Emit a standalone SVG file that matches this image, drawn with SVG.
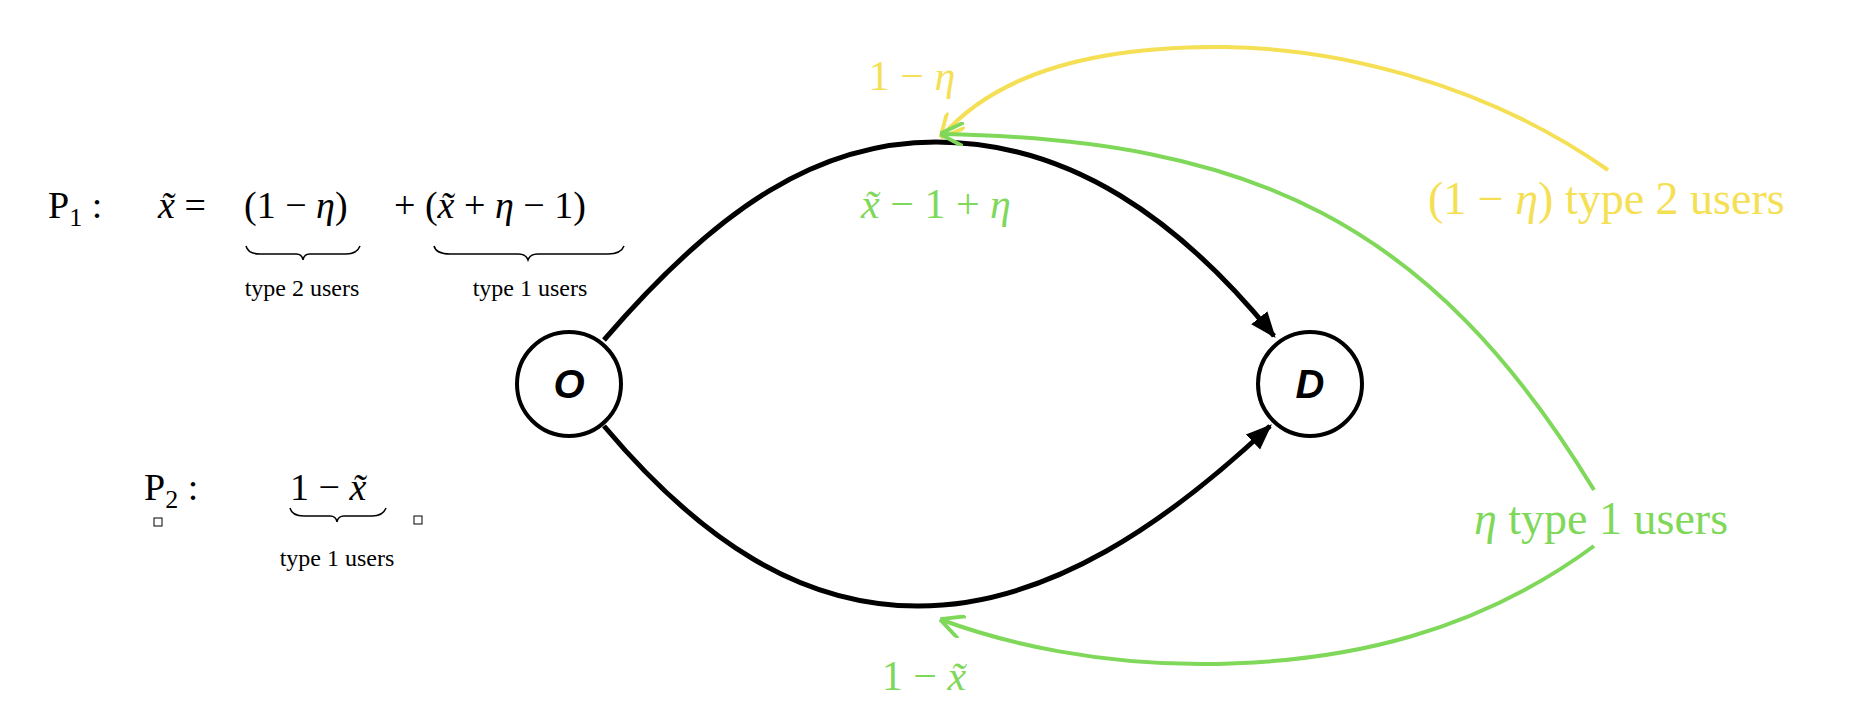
<svg xmlns="http://www.w3.org/2000/svg" width="1872" height="722" viewBox="0 0 1872 722">
<style>
.m{font-family:"Liberation Serif","DejaVu Serif",serif}
.i{font-style:italic}
.y{fill:#f5df55}.g{fill:#7fd85a}
.node{fill:#fff;stroke:#000;stroke-width:4}
.nl{font-family:"Liberation Sans",Arial,sans-serif;font-weight:bold;font-style:italic;font-size:40px}
.br{fill:none;stroke:#000;stroke-width:1.5}
</style>
<defs>
<marker id="ab" markerWidth="10" markerHeight="10" refX="8" refY="5" orient="auto" markerUnits="userSpaceOnUse" viewBox="0 0 10 10"><path d="M0,0 L10,5 L0,10 z" fill="#000" transform="scale(1)"/></marker>
<marker id="ak" viewBox="0 0 10 10" refX="9" refY="5" markerWidth="26" markerHeight="26" orient="auto" markerUnits="userSpaceOnUse"><path d="M0,1 L10,5 L0,9 z" fill="#000"/></marker>
<marker id="ay" viewBox="0 0 10 10" refX="9" refY="5" markerWidth="24" markerHeight="24" orient="auto" markerUnits="userSpaceOnUse"><path d="M0,0 L10,5 L0,10" fill="none" stroke="#f5df55" stroke-width="1.6"/></marker>
<marker id="ag" viewBox="0 0 10 10" refX="9" refY="5" markerWidth="24" markerHeight="24" orient="auto" markerUnits="userSpaceOnUse"><path d="M0,0 L10,5 L0,10" fill="none" stroke="#7fd85a" stroke-width="1.6"/></marker>
</defs>
<g id="connectors" fill="none">
<path d="M604,340 C720,205 820,142 936,142 C1070,142 1180,220 1274,336" stroke="#000" stroke-width="5" marker-end="url(#ak)"/>
<path d="M604,426 C700,540 800,606 918,606 C1050,606 1170,520 1270,426" stroke="#000" stroke-width="5" marker-end="url(#ak)"/>
<path d="M1608,170 C1480,80 1330,48 1224,47 C1100,46 1000,70 942,136" stroke="#f5df55" stroke-width="4" marker-end="url(#ay)"/>
<path d="M1594,490 C1430,220 1250,140 942,134" stroke="#7fd85a" stroke-width="4" marker-end="url(#ag)"/>
<path d="M1594,546 C1480,630 1350,664 1200,664 C1100,664 1010,645 942,620" stroke="#7fd85a" stroke-width="4" marker-end="url(#ag)"/>
</g>
<g id="node-O"><circle class="node" cx="569" cy="384" r="52"/><text class="nl" x="569" y="398" text-anchor="middle">O</text></g>
<g id="node-D"><circle class="node" cx="1310" cy="384" r="52"/><text class="nl" x="1310" y="398" text-anchor="middle">D</text></g>
<g id="labels" class="m">
<text class="y" x="912" y="90" font-size="42" text-anchor="middle">1 − <tspan class="i">η</tspan></text>
<text class="g" x="936" y="218" font-size="42" text-anchor="middle"><tspan class="i">x̃</tspan> − 1 + <tspan class="i">η</tspan></text>
<text class="y" x="1428" y="214" font-size="46">(1 − <tspan class="i">η</tspan>) type 2 users</text>
<text class="g" x="1474" y="534" font-size="46"><tspan class="i">η</tspan> type 1 users</text>
<text class="g" x="924" y="690" font-size="42" text-anchor="middle">1 − <tspan class="i">x̃</tspan></text>
</g>
<g id="eq-P1" class="m" font-size="38">
<text x="48" y="218">P<tspan font-size="26" dy="8">1</tspan><tspan dy="-8"> :</tspan></text>
<text x="158" y="218"><tspan class="i">x̃</tspan> =</text>
<text x="244" y="218">(1 − <tspan class="i">η</tspan>)</text>
<text x="394" y="218">+ (<tspan class="i">x̃</tspan> + <tspan class="i">η</tspan> − 1)</text>
<path class="br" d="M246,246 Q248,254 260,254 L296,254 Q302,254 303,260 Q304,254 310,254 L346,254 Q357,254 360,246"/>
<path class="br" d="M434,246 Q436,254 450,254 L518,254 Q526,254 528,260 Q530,254 538,254 L608,254 Q621,254 624,246"/>
<text x="302" y="296" font-size="24" text-anchor="middle">type 2 users</text>
<text x="530" y="296" font-size="24" text-anchor="middle">type 1 users</text>
</g>
<g id="eq-P2" class="m" font-size="38">
<text x="144" y="500">P<tspan font-size="26" dy="8">2</tspan><tspan dy="-8"> :</tspan></text>
<text x="290" y="500">1 − <tspan class="i">x̃</tspan></text>
<path class="br" d="M290,508 Q292,516 304,516 L330,516 Q336,516 337,522 Q338,516 344,516 L372,516 Q383,516 386,508"/>
<text x="337" y="566" font-size="24" text-anchor="middle">type 1 users</text>
<rect x="154" y="518" width="8" height="8" fill="none" stroke="#000" stroke-width="1"/>
<rect x="414" y="516" width="8" height="8" fill="none" stroke="#000" stroke-width="1"/>
</g>
</svg>
